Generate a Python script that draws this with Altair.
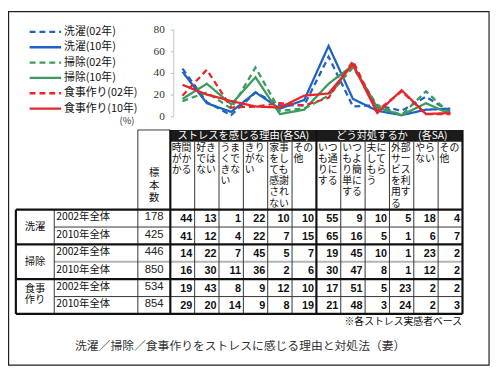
import altair as alt
import pandas as pd

# ---------------- data ----------------
SERIES = ["洗濯(02年)", "洗濯(10年)", "掃除(02年)", "掃除(10年)", "食事作り(02年)", "食事作り(10年)"]
WASH_02 = [44, 13, 1, 22, 10, 10, 55, 9, 10, 5, 18, 4]
WASH_10 = [41, 12, 4, 22, 7, 15, 65, 16, 5, 1, 6, 7]
CLEAN_02 = [14, 22, 7, 45, 5, 7, 19, 45, 10, 1, 23, 2]
CLEAN_10 = [16, 30, 11, 36, 2, 6, 30, 47, 8, 1, 12, 2]
COOK_02 = [19, 43, 8, 9, 12, 10, 17, 51, 5, 23, 2, 2]
COOK_10 = [29, 20, 14, 9, 8, 19, 21, 48, 3, 24, 2, 3]
VALUES = [WASH_02, WASH_10, CLEAN_02, CLEAN_10, COOK_02, COOK_10]
SAMPLE_N = [178, 425, 446, 850, 534, 854]
YEARS = ["2002年全体", "2010年全体"]
CATEGORY_LINES = [["洗濯"], ["掃除"], ["食事", "作り"]]
COLUMN_HEADERS = [
    ["時間", "がか", "かる"], ["好き", "では", "ない"], ["うま", "くで", "きな", "い"],
    ["きり", "がな", "い"], ["家事", "をし", "ても", "感謝", "され", "ない"], ["その", "他"],
    ["いつ", "も通", "りに", "する"], ["いつ", "もよ", "り簡", "単に", "する"],
    ["夫に", "して", "もら", "う"], ["外部", "サー", "ビス", "を利", "用す", "る"],
    ["やら", "ない"], ["その", "他"],
]
GROUP_TITLES = ["ストレスを感じる理由(各SA)", "どう対処するか　(各SA)"]
N_LABEL = ["標", "本", "数"]
Y_TICKS = [0, 20, 40, 60, 80]
FOOTNOTE = "※各ストレス実感者ベース"
TITLE = "洗濯／掃除／食事作りをストレスに感じる理由と対処法（妻）"
UNIT = "(%)"

# ---------------- styles / layout ----------------
COLORS = ["#1f63c1", "#1f63c1", "#3a9b5c", "#3a9b5c", "#e9242b", "#e9242b"]
DASHES = [[6, 4], [1, 0], [6, 4], [1, 0], [6, 4], [1, 0]]
JP = "Noto Sans CJK JP"

TX0, TX1, NCOL = 173.0, 470.0, 12
TY0, TY1, NROW = 210.0, 316.0, 6
CW = (TX1 - TX0) / NCOL
RH = (TY1 - TY0) / NROW


def cu(px):
    return (px - TX0) / CW


def ru(py):
    return (py - TY0) / RH


W, H = 492, 363
XS = alt.Scale(domain=[cu(8), cu(500)], nice=False, zero=False)
YS = alt.Scale(domain=[ru(8), ru(371)], nice=False, zero=False, reverse=True)
Y0PX, PXPER = 115.0, 1.1
YP = alt.Scale(domain=[(Y0PX - 371) / PXPER, (Y0PX - 8) / PXPER], nice=False, zero=False)

COLOR = alt.Color("series:N", scale=alt.Scale(domain=SERIES, range=COLORS), legend=None)
DASH = alt.StrokeDash("series:N", scale=alt.Scale(domain=SERIES, range=DASHES), legend=None)


def X(f="x"):
    return alt.X(f"{f}:Q", scale=XS, axis=None)


def Y(f="y"):
    return alt.Y(f"{f}:Q", scale=YS, axis=None)


def texts(df, **kw):
    return alt.Chart(df).mark_text(**kw).encode(x=X(), y=Y(), text="t:N")


# ---------------- table pieces ----------------
border = alt.Chart(pd.DataFrame([{"x": cu(8.6), "x2": cu(497), "y": ru(8.6), "y2": ru(368)}])).mark_rect(
    filled=False, color="#231f20", strokeWidth=1.2
).encode(x=X(), x2="x2:Q", y=Y(), y2="y2:Q")

band = alt.Chart(pd.DataFrame([{"x": 0, "x2": NCOL, "y": ru(129), "y2": ru(141)}])).mark_rect(
    color="#1b1b1b"
).encode(x=X(), x2="x2:Q", y=Y(), y2="y2:Q")

band_div = alt.Chart(pd.DataFrame([{"x": 6, "y": ru(129), "y2": ru(141)}])).mark_rule(
    color="#9a9a9a", strokeWidth=1
).encode(x=X(), y=Y(), y2="y2:Q")

h_thick, h_thin, h_gray = [], [], []
for r in range(NROW + 1):
    if r % 2 == 0:
        h_thick.append({"x": cu(16), "x2": NCOL, "y": r})
    elif r == 3:
        h_gray.append({"x": cu(55), "x2": NCOL, "y": r})
    else:
        h_thin.append({"x": cu(55), "x2": NCOL, "y": r})
h_thin.append({"x": cu(140), "x2": 0, "y": ru(129)})

v_thick = [{"x": cu(16), "y": 0, "y2": NROW}] + [
    {"x": k, "y": ru(129), "y2": NROW} for k in (0, 6, 12)
]
v_thin = [{"x": cu(55), "y": 0, "y2": NROW}, {"x": cu(140), "y": ru(129), "y2": NROW}] + [
    {"x": k, "y": ru(141), "y2": NROW} for k in list(range(1, 6)) + list(range(7, 12))
]


def hrules(rows, color, w):
    return alt.Chart(pd.DataFrame(rows)).mark_rule(color=color, strokeWidth=w).encode(
        x=X(), x2="x2:Q", y=Y()
    )


def vrules(rows, color, w):
    return alt.Chart(pd.DataFrame(rows)).mark_rule(color=color, strokeWidth=w).encode(
        x=X(), y=Y(), y2="y2:Q"
    )


grid = [
    hrules(h_thin, "#333333", 1),
    hrules(h_gray, "#b4b4b4", 2),
    vrules(v_thin, "#333333", 1),
    hrules(h_thick, "#111111", 2.2),
    vrules(v_thick, "#111111", 2.2),
]

band_text = texts(
    pd.DataFrame([{"x": 3.0, "y": ru(135), "t": GROUP_TITLES[0]}, {"x": 9.1, "y": ru(135), "t": GROUP_TITLES[1]}]),
    font=JP, fontSize=10.4, color="white", align="center", baseline="middle",
)

hdr_rows = []
for i, lines in enumerate(COLUMN_HEADERS):
    for l, s in enumerate(lines):
        hdr_rows.append({"x": i + 1.5 / CW, "y": ru(147.3 + 11.3 * l), "t": s})
hdr_text = texts(pd.DataFrame(hdr_rows), font=JP, fontSize=10, color="#111", align="left", baseline="middle")

n_label = texts(
    pd.DataFrame([{"x": cu(156.5), "y": ru(173 + 12.5 * k), "t": s} for k, s in enumerate(N_LABEL)]),
    font=JP, fontSize=10.5, color="#111", align="center", baseline="middle",
)

val_rows = []
for r, vals in enumerate(VALUES):
    for i, v in enumerate(vals):
        val_rows.append({"x": i + 1 - 2.5 / CW, "y": r + 0.56, "t": str(v)})
val_text = texts(pd.DataFrame(val_rows), font="Liberation Sans", fontSize=11, fontWeight="bold",
                 color="#111", align="right", baseline="middle")

n_text = texts(
    pd.DataFrame([{"x": cu(156.5), "y": r + 0.45, "t": str(n)} for r, n in enumerate(SAMPLE_N)]),
    font="Liberation Sans Narrow, Liberation Sans", fontSize=11.5, color="#222", align="center", baseline="middle",
)

year_text = texts(
    pd.DataFrame([{"x": cu(57), "y": r + 0.45, "t": YEARS[r % 2]} for r in range(NROW)]),
    font=JP, fontSize=10.5, color="#111", align="left", baseline="middle",
)

cat_rows = []
for g, lines in enumerate(CATEGORY_LINES):
    n = len(lines)
    for l, s in enumerate(lines):
        if n == 1:
            yy = 2 * g + 1
        else:
            yy = 2 * g + 1 - 0.45 + l * (12.0 / RH)
        cat_rows.append({"x": cu(35.5), "y": yy, "t": s})
cat_text = texts(pd.DataFrame(cat_rows), font=JP, fontSize=10.5, color="#111", align="center", baseline="middle")

foot_text = texts(pd.DataFrame([{"x": cu(469.5), "y": ru(324), "t": FOOTNOTE}]),
                  font=JP, fontSize=10, color="#111", align="right", baseline="middle")
title_text = texts(pd.DataFrame([{"x": cu(244), "y": ru(349), "t": TITLE}]),
                   font=JP, fontSize=12, color="#333", align="center", baseline="middle")
unit_text = texts(pd.DataFrame([{"x": cu(129), "y": ru(120), "t": UNIT}]),
                  font=JP, fontSize=9.5, color="#333", align="center", baseline="middle")

# ---------------- legend (manual) ----------------
leg = pd.DataFrame([
    {"series": s, "x": cu(30), "x2": cu(62), "tx": cu(65), "y": ru(29.3 + 15.6 * k), "t": s}
    for k, s in enumerate(SERIES)
])
leg_lines = alt.Chart(leg).mark_rule(strokeWidth=2.4).encode(
    x=X(), x2="x2:Q", y=Y(), color=COLOR, strokeDash=DASH
)
leg_text = alt.Chart(leg).mark_text(font=JP, fontSize=11, color="#111", align="left", baseline="middle").encode(
    x=X("tx"), y=Y(), text="t:N"
)

table = alt.layer(
    border, band, band_div, *grid, band_text, hdr_text, n_label, val_text, n_text,
    year_text, cat_text, foot_text, title_text, unit_text, leg_lines, leg_text,
)

# ---------------- line chart ----------------
line_rows = []
for s, vals in zip(SERIES, VALUES):
    for i, v in enumerate(vals):
        line_rows.append({"series": s, "x": i + 0.5, "v": v})
lines_df = pd.DataFrame(line_rows)

AX = alt.Axis(
    orient="left", offset=-168, values=Y_TICKS, domain=False, grid=False, title=None,
    ticks=True, tickSize=3, tickColor="#bbbbbb", labelFont="Liberation Serif", labelFontSize=11.5,
    labelColor="#333333", labelPadding=6,
)
axis_line = alt.Chart(pd.DataFrame([{"x": cu(176.5), "y": 0, "y2": 80}])).mark_rule(
    color="#c4c4c4", strokeWidth=1
).encode(x=X(), y=alt.Y("y:Q", scale=YP, axis=AX), y2="y2:Q")

series_lines = alt.Chart(lines_df).mark_line(strokeWidth=2.3).encode(
    x=X(), y=alt.Y("v:Q", scale=YP, axis=AX), color=COLOR, strokeDash=DASH,
)
line_chart = alt.layer(axis_line, series_lines)

chart = (
    alt.layer(table, line_chart)
    .resolve_scale(y="independent")
    .properties(width=W, height=H, autosize=alt.AutoSizeParams(type="none"), padding=0, background="white")
    .configure_view(stroke=None)
)

chart.save("out.html", embed_options={"renderer": "svg", "actions": False})
